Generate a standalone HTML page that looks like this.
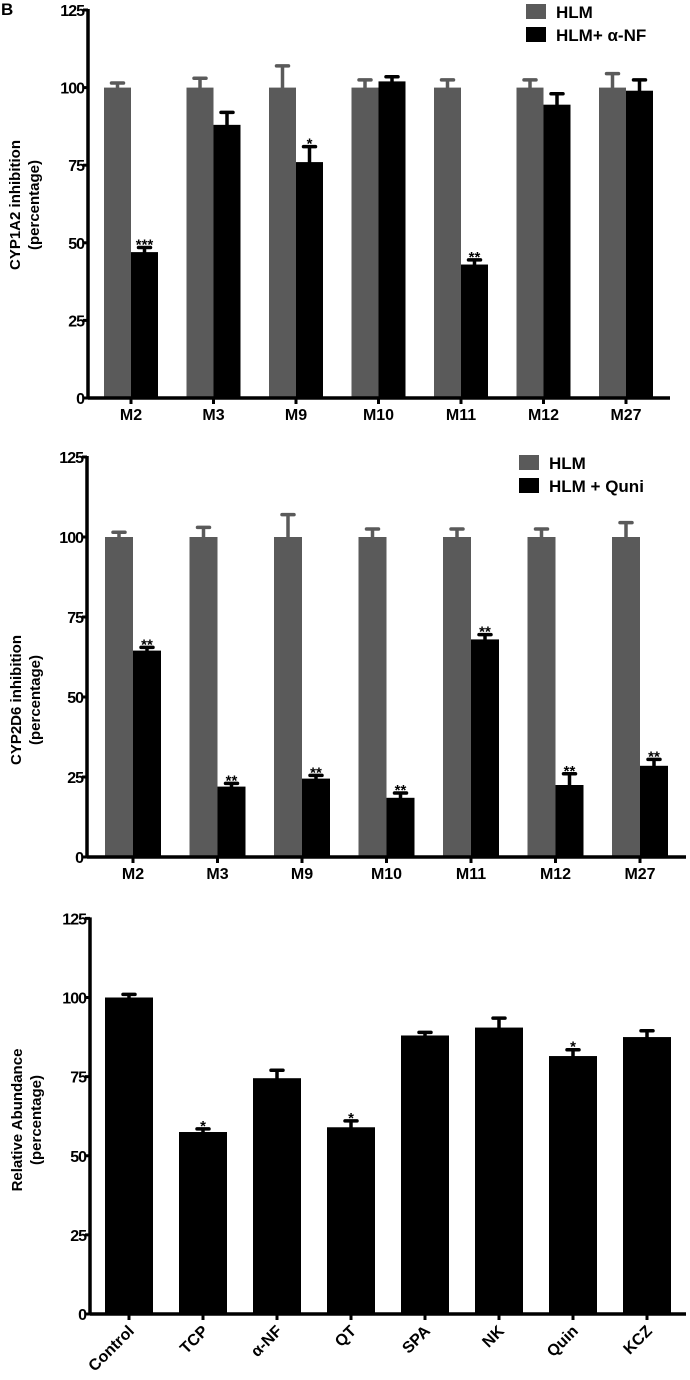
<!DOCTYPE html>
<html><head><meta charset="utf-8">
<style>
html,body{margin:0;padding:0;background:#fff;}
svg{display:block;font-family:"Liberation Sans",Arial,sans-serif;font-weight:bold;}
</style></head>
<body>
<svg id="chart" width="690" height="1380" viewBox="0 0 690 1380"></svg>
<script>
const categories12 = ["M2","M3","M9","M10","M11","M12","M27"];
const hlmValues = [100,100,100,100,100,100,100];
const hlmErrors = [1.5,3,7,2.5,2.5,2.5,4.5];
const anfValues = [47,88,76,102,43,94.5,99];
const anfErrors = [1.5,4,5,1.5,1.5,3.5,3.5];
const anfStars = ["***","","*","","**","",""];
const quniValues = [64.5,22,24.5,18.5,68,22.5,28.5];
const quniErrors = [1,1,1,1.5,1.5,3.5,2];
const quniStars = ["**","**","**","**","**","**","**"];
const categories3 = ["Control","TCP","\u03b1-NF","QT","SPA","NK","Quin","KCZ"];
const abundValues = [100,57.5,74.5,59,88,90.5,81.5,87.5];
const abundErrors = [1,1,2.5,2,1,3,2,2];
const abundStars = ["","*","","*","","","*",""];
const yTicks = [0,25,50,75,100,125];

const NS="http://www.w3.org/2000/svg";
const svg=document.getElementById('chart');
function mk(tag,attrs,parent,text){const e=document.createElementNS(NS,tag);for(const k in attrs)e.setAttribute(k,attrs[k]);if(text!==undefined)e.textContent=text;(parent||svg).appendChild(e);return e;}

function panel(cfg){
  const g=mk('g',{});
  
  
  const y=v=>cfg.y0-v*cfg.k;
  yTicks.forEach(t=>{
    const tk=mk('line',{x1:cfg.ax-5,x2:cfg.ax,y1:y(t),y2:y(t),stroke:'#000','stroke-width':3},g);
    
    
    const lb=mk('text',{x:cfg.ax-4,y:y(t)+6,'text-anchor':'end','font-size':16,'letter-spacing':'-1'},g,String(t));
    
    
  });
  cfg.series.forEach((s,si)=>{
    s.values.forEach((v,i)=>{
      const x=cfg.x0+i*cfg.step+si*cfg.bw;
      const r=mk('rect',{x:x,y:y(v),width:cfg.bw,height:cfg.y0-y(v),fill:s.color},g);
      
      
      const cx=x+cfg.bw/2, top=y(v+s.errors[i]);
      const eb=mk('path',{d:`M${cx},${y(v)} V${top} M${cx-6},${top} H${cx+6}`,stroke:s.color,'stroke-width':3.5,'stroke-linecap':'round',fill:'none'},g);
      
      
      if(s.stars&&s.stars[i]){
        const st=mk('text',{x:cx,y:top+2,'text-anchor':'middle','font-size':15},g,s.stars[i]);
        
        
      }
    });
  });
  cfg.cats.forEach((c,i)=>{
    const cx=cfg.x0+i*cfg.step+cfg.bw*cfg.series.length/2;
    const tk=mk('line',{x1:cx,x2:cx,y1:cfg.y0,y2:cfg.y0+6,stroke:'#000','stroke-width':3},g);
    
    
    let lb;
    if(cfg.rotate){
      lb=mk('text',{x:cx+6,y:cfg.y0+18,'text-anchor':'end','font-size':16,transform:`rotate(-45 ${cx+6} ${cfg.y0+18})`},g,c);
    }else{
      lb=mk('text',{x:cx,y:cfg.y0+22,'text-anchor':'middle','font-size':16},g,c);
    }
    
    
  });
  const ya=mk('line',{x1:cfg.ax,x2:cfg.ax,y1:y(125)-1,y2:cfg.y0+1.5,stroke:'#000','stroke-width':3.5},g);
  
  
  const xa=mk('line',{x1:cfg.ax,x2:cfg.xend,y1:cfg.y0,y2:cfg.y0,stroke:'#000','stroke-width':3.5},g);
  
  
  const tt=mk('text',{transform:`translate(${cfg.tx},${cfg.ty}) rotate(-90)`,'text-anchor':'middle','font-size':15},g);
  
  
  mk('tspan',{x:0,y:0},tt,cfg.title[0]);
  mk('tspan',{x:0,y:19},tt,cfg.title[1]);
  if(cfg.legend){
    cfg.legend.forEach((L,i)=>{
      const lg=mk('g',{},g);
      
      
      mk('rect',{x:cfg.lx,y:cfg.ly+i*23,width:20,height:15,fill:L.color},lg);
      mk('text',{x:cfg.lx+30,y:cfg.ly+i*23+14,'font-size':17},lg,L.label);
    });
  }
}

const mb=mk('text',{x:1,y:15,'font-size':17},svg,'B');



panel({name:'cyp1a2-chart',y0:398,k:3.104,ax:88,xend:670,x0:104,step:82.5,bw:27,cats:categories12,
  series:[{key:'hlm',color:'#5a5a5a',values:hlmValues,errors:hlmErrors},{key:'hlm-anf',color:'#000',values:anfValues,errors:anfErrors,stars:anfStars}],
  tx:20,ty:205,title:['CYP1A2 inhibition','(percentage)'],
  legend:[{color:'#5a5a5a',label:'HLM'},{color:'#000',label:'HLM+ \u03b1-NF'}],lx:526,ly:4});

panel({name:'cyp2d6-chart',y0:857,k:3.2,ax:87,xend:686,x0:105,step:84.5,bw:28,cats:categories12,
  series:[{key:'hlm',color:'#5a5a5a',values:hlmValues,errors:hlmErrors},{key:'hlm-quni',color:'#000',values:quniValues,errors:quniErrors,stars:quniStars}],
  tx:21,ty:700,title:['CYP2D6 inhibition','(percentage)'],
  legend:[{color:'#5a5a5a',label:'HLM'},{color:'#000',label:'HLM + Quni'}],lx:519,ly:455});

panel({name:'relative-abundance-chart',y0:1314,k:3.165,ax:90,xend:686,x0:105,step:74,bw:48,cats:categories3,
  series:[{key:'abundance',color:'#000',values:abundValues,errors:abundErrors,stars:abundStars}],
  tx:22,ty:1120,title:['Relative Abundance','(percentage)'],rotate:true});
</script>
</body></html>
